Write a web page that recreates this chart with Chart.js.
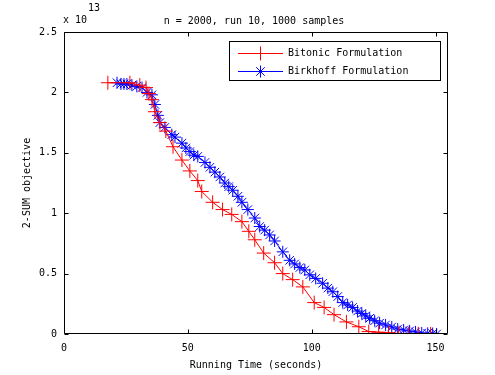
<!DOCTYPE html>
<html>
<head>
<meta charset="utf-8">
<script src="https://cdn.jsdelivr.net/npm/chart.js@4/dist/chart.umd.min.js"></script>
<style>
  html, body { margin: 0; padding: 0; background: #fff; }
  #wrap { width: 495px; height: 375px; }
</style>
</head>
<body>
<div id="wrap"><canvas id="myChart" width="495" height="375"></canvas></div>
<script>
// values (objective in units of 1e13)
var bitonicTime = [17.7, 26.6, 30.6, 33.1, 34.3, 35.5, 36.7, 38.7, 41.1, 44, 47.6, 50.8, 54, 55.6, 60, 64, 67.7, 71.8, 74.6,
    77, 80.6, 85, 88.3, 92.3, 96.4, 101, 105, 109, 114, 119, 123, 127, 131, 135, 139, 143, 148];
var bitonicValue = [2.08, 2.08, 2.06, 2.04, 1.99, 1.94, 1.84, 1.75, 1.68, 1.55, 1.44, 1.35, 1.27, 1.18, 1.09, 1.03, 0.99, 0.93, 0.85,
    0.78, 0.67, 0.59, 0.50, 0.45, 0.39, 0.26, 0.22, 0.16, 0.10, 0.06, 0.02, 0.015, 0.01, 0.005, 0.003, 0.002, 0.001];

var birkhoffTime = [21.4, 23.0, 24.2, 25.4, 27.4, 29.4, 31.5, 33.5, 35.5, 36.7, 37.9, 38.7, 40.7, 43.5, 44.8, 47.6, 49.2, 50.8,
    52.4, 54, 56.9, 58.9, 60.9, 62.9, 64.9, 66.5, 68.1, 70.2, 71.8, 74.2, 77, 79, 81, 83, 85, 88.3, 91.1, 93.1, 95.2, 97.2,
    99.2, 101.6, 104.4, 106.5, 108.5, 110.5, 112.5, 114.5, 116.5, 118.5, 120.2, 121.8, 123.4, 125.4, 127.4, 129.8, 132.3,
    134.7, 137.1, 139.5, 141.9, 144.4, 146.8, 148.8, 150.4];
var birkhoffValue = [2.08, 2.07, 2.07, 2.07, 2.06, 2.05, 2.04, 2.00, 1.98, 1.90, 1.81, 1.75, 1.71, 1.65, 1.63, 1.58, 1.54, 1.51,
    1.48, 1.47, 1.42, 1.38, 1.34, 1.30, 1.25, 1.22, 1.19, 1.14, 1.09, 1.03, 0.96, 0.89, 0.86, 0.82, 0.77, 0.68, 0.61, 0.58, 0.55, 0.53,
    0.49, 0.46, 0.42, 0.38, 0.35, 0.31, 0.26, 0.24, 0.22, 0.19, 0.17, 0.15, 0.13, 0.11, 0.09, 0.075, 0.058,
    0.041, 0.033, 0.025, 0.017, 0.008, 0.006, 0.004, 0];

var xTicks = [0, 50, 100, 150];
var yTicks = [0, 0.5, 1, 1.5, 2, 2.5];

var chartTitle = "n = 2000, run 10, 1000 samples";
var FONT = "'DejaVu Sans Mono', 'Liberation Mono', monospace";

function toPoints(xs, ys) {
    var pts = [];
    for (var i = 0; i < xs.length; i++) {
        pts.push({ x: xs[i], y: ys[i] });
    }
    return pts;
}

// matlab style box, inward ticks, legend and title text
var matlabFrame = {
    id: 'matlabFrame',
    afterDraw: function (chart) {
        var ctx = chart.ctx;
        var a = chart.chartArea;
        var xs = chart.scales.x, ys = chart.scales.y;
        var L = Math.round(a.left) + 0.5, R = Math.round(a.right) - 0.5;
        var T = Math.round(a.top) + 0.5, B = Math.round(a.bottom) - 0.5;
        var tl = 4;

        ctx.save();
        ctx.strokeStyle = '#000';
        ctx.lineWidth = 1;
        ctx.beginPath();
        ctx.rect(L, T, R - L, B - T);
        xTicks.forEach(function (v) {
            var px = Math.round(xs.getPixelForValue(v)) + 0.5;
            ctx.moveTo(px, B); ctx.lineTo(px, B - tl);
            ctx.moveTo(px, T); ctx.lineTo(px, T + tl);
        });
        yTicks.forEach(function (v) {
            var py = Math.round(ys.getPixelForValue(v)) + 0.5;
            ctx.moveTo(L, py); ctx.lineTo(L + tl, py);
            ctx.moveTo(R, py); ctx.lineTo(R - tl, py);
        });
        ctx.stroke();

        // title + exponent
        ctx.fillStyle = '#000';
        ctx.font = '10px ' + FONT;
        ctx.textAlign = 'center';
        ctx.textBaseline = 'middle';
        ctx.fillText(chartTitle, (a.left + a.right) / 2 - 2, 21);
        ctx.textAlign = 'left';
        ctx.fillText('x 10', 63, 20);
        ctx.fillText('13', 88, 8);

        // legend
        var bx = 229.5, by = 41.5, bw = 211, bh = 39;
        ctx.fillStyle = '#fff';
        ctx.fillRect(bx, by, bw, bh);
        ctx.strokeStyle = '#000';
        ctx.strokeRect(bx, by, bw, bh);
        chart.data.datasets.forEach(function (ds, i) {
            var ry = 53.5 + i * 18;
            ctx.strokeStyle = ds.borderColor;
            ctx.lineWidth = 1;
            ctx.beginPath();
            ctx.moveTo(238, ry); ctx.lineTo(283, ry);
            ctx.stroke();
            Chart.helpers.drawPoint(ctx, {
                pointStyle: ds.pointStyle,
                radius: ds.pointRadius,
                borderWidth: 1
            }, 260.5, ry);
            ctx.fillStyle = '#000';
            ctx.textAlign = 'left';
            ctx.textBaseline = 'middle';
            ctx.fillText(ds.label, 288, ry);
        });
        ctx.restore();
    }
};

const ctx = document.getElementById('myChart');
const myChart = new Chart(ctx, {
    type: 'scatter',
    data: {
        datasets: [{
            label: 'Bitonic Formulation',
            data: toPoints(bitonicTime, bitonicValue),
            showLine: true,
            borderColor: '#ff0000',
            backgroundColor: '#ff0000',
            borderWidth: 1,
            pointStyle: 'cross',
            pointRadius: 7,
            pointBorderWidth: 1,
            pointBorderColor: '#ff0000'
        }, {
            label: 'Birkhoff Formulation',
            data: toPoints(birkhoffTime, birkhoffValue),
            showLine: true,
            borderColor: '#0000ff',
            backgroundColor: '#0000ff',
            borderWidth: 1,
            pointStyle: 'star',
            pointRadius: 6,
            pointBorderWidth: 1,
            pointBorderColor: '#0000ff'
        }]
    },
    options: {
        responsive: false,
        animation: false,
        layout: { padding: { left: 0, top: 32, right: 47, bottom: 0 } },
        plugins: {
            legend: { display: false },
            tooltip: { enabled: false }
        },
        scales: {
            x: {
                type: 'linear',
                min: 0,
                max: 155,
                grid: { display: false, drawTicks: false },
                border: { display: false },
                ticks: {
                    stepSize: 50,
                    includeBounds: false,
                    padding: 8,
                    color: '#000',
                    maxRotation: 0,
                    font: { family: FONT, size: 10 }
                },
                title: {
                    display: true,
                    text: 'Running Time (seconds)',
                    color: '#000',
                    padding: { top: 0, bottom: 4 },
                    font: { family: FONT, size: 10 }
                },
                afterFit: function (scale) { scale.height = 41; }
            },
            y: {
                type: 'linear',
                min: 0,
                max: 2.5,
                grid: { display: false, drawTicks: false },
                border: { display: false },
                ticks: {
                    stepSize: 0.5,
                    padding: 7,
                    color: '#000',
                    font: { family: FONT, size: 10 },
                    callback: function (v) { return String(v); }
                },
                title: {
                    display: true,
                    text: '2-SUM objective',
                    color: '#000',
                    padding: { top: 21, bottom: 0 },
                    font: { family: FONT, size: 10 }
                },
                afterFit: function (scale) { scale.width = 64; }
            }
        }
    },
    plugins: [matlabFrame]
});
</script>
</body>
</html>
